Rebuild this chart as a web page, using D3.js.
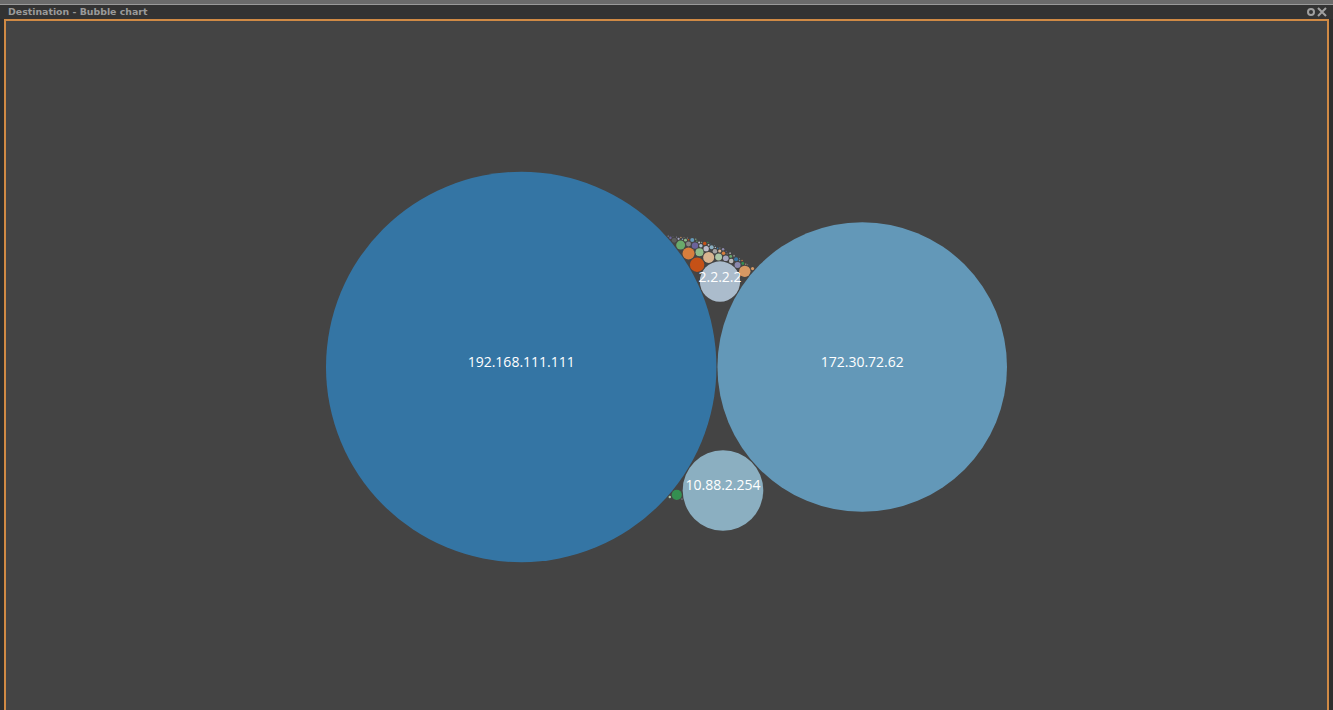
<!DOCTYPE html>
<html>
<head>
<meta charset="utf-8">
<script src="https://cdn.jsdelivr.net/npm/d3@7"></script>
<style>
  body { margin: 0; background: #2e2e2e; overflow: hidden; }
  svg { display: block; }
</style>
</head>
<body>
<svg class="chart"></svg>
<script>
var width = 1333;
var height = 710;

// destinations and their counts (sorted high to low)
var names = ["192.168.111.111", "172.30.72.62", "10.88.2.254", "2.2.2.2",
    "10.10.1.5", "10.10.1.20", "10.10.2.7", "10.10.2.9", "10.10.3.1", "10.10.3.4",
    "10.10.4.2", "10.10.4.8", "10.10.5.3", "10.10.5.6", "10.10.6.1", "10.10.6.9",
    "10.10.7.2", "10.10.7.5", "10.10.8.4", "10.10.8.8", "10.10.9.1", "10.10.9.3",
    "10.10.10.2", "10.10.10.6", "10.10.11.4", "10.10.11.7", "10.10.12.1", "10.10.12.5",
    "10.10.13.2", "10.10.13.8", "10.10.14.3", "10.10.14.6", "10.10.15.1", "10.10.15.9",
    "10.10.16.2", "10.10.16.4", "10.10.17.3", "10.10.17.7", "10.10.18.1", "10.10.18.5",
    "10.10.19.2", "10.10.19.6", "10.10.20.3", "10.10.20.8", "10.10.21.1", "10.10.21.4",
    "10.10.22.2", "10.10.22.7", "10.10.23.3", "10.10.23.5", "10.10.24.1", "10.10.24.9",
    "10.10.25.2", "10.10.25.6", "10.10.26.4", "10.10.26.8", "10.10.27.1", "10.10.27.3",
    "10.10.28.5", "10.10.28.7", "10.10.29.2", "10.10.29.4", "10.10.30.6", "10.10.30.9"];
var counts = [38000, 20900, 1620, 405,
    52, 36, 32, 30, 26, 20,
    16, 12, 10, 9, 8, 7,
    6, 6, 5, 5, 4, 4,
    4, 3, 3, 3, 2.5, 2.5,
    2, 2, 2, 1.5, 1.5, 1.5,
    1.2, 1, 1, 1, 0.8, 0.8,
    0.6, 0.6, 0.5, 0.5, 0.5, 0.5,
    0.4, 0.4, 0.4, 0.4, 0.4, 0.3,
    0.3, 0.3, 0.3, 0.3, 0.3, 0.3,
    0.2, 0.2, 0.2, 0.2, 0.2, 0.2];

var title = "Destination - Bubble chart";

var chart = d3.select(".chart")
    .attr("width", width)
    .attr("height", height)
    .style("font-family", "'Open Sans', sans-serif");

// window frame
chart.append("rect").attr("x", 0).attr("y", 0).attr("width", width).attr("height", 4).attr("fill", "#6b6b6b");
chart.append("rect").attr("x", 0).attr("y", 4).attr("width", width).attr("height", 1).attr("fill", "#9a9a9a");
chart.append("rect").attr("x", 0).attr("y", 5).attr("width", width).attr("height", 14).attr("fill", "#333333");
chart.append("rect").attr("x", 4).attr("y", 19).attr("width", 1325).attr("height", 691).attr("fill", "#d08a45");
chart.append("rect").attr("x", 6).attr("y", 21).attr("width", 1321).attr("height", 689).attr("fill", "#444444");

chart.append("text")
    .attr("x", 8)
    .attr("y", 15)
    .attr("fill", "#9a9a9a")
    .style("font-family", "'DejaVu Sans', sans-serif")
    .style("font-size", "9.4px")
    .style("font-weight", "bold")
    .text(title);

// gear + close icons
var icons = chart.append("g").attr("fill", "none").attr("stroke", "#a0a0a0");
icons.append("circle").attr("cx", 1311).attr("cy", 12).attr("r", 3).attr("stroke-width", 2);
icons.append("path").attr("d", "M1318,8L1326,16M1326,8L1318,16").attr("stroke-width", 2);

var data = names.map(function(n, i) {
    return {name: n, value: counts[i]};
});

var root = d3.hierarchy({children: data})
    .sum(function(d) { return d.value; })
    .sort(function(a, b) { return b.value - a.value; });

var pack = d3.pack()
    .size([1323, 683])
    .padding(1);

pack(root);

var color = d3.scaleOrdinal(d3.schemeCategory20c || [
    "#3182bd", "#6baed6", "#9ecae1", "#c6dbef", "#e6550d", "#fd8d3c", "#fdae6b", "#fdd0a2",
    "#31a354", "#74c476", "#a1d99b", "#c7e9c0", "#756bb1", "#9e9ac8", "#bcbddc", "#dadaeb",
    "#636363", "#969696", "#bdbdbd", "#d9d9d9"]);

var g = chart.append("g")
    .attr("transform", "translate(5,25.5)");

var node = g.selectAll("g.node")
    .data(root.leaves())
    .enter()
    .append("g")
    .attr("class", "node")
    .attr("transform", function(d) { return "translate(" + d.x + "," + d.y + ")"; });

node.append("circle")
    .attr("r", function(d) { return d.r; })
    .attr("fill", function(d) { return color(d.data.name); })
    .attr("fill-opacity", 0.8);

node.append("title")
    .text(function(d) { return d.data.name + ": " + d.data.value; });

node.filter(function(d) { return d.r > 15; })
    .append("text")
    .attr("text-anchor", "middle")
    .attr("fill", "#ffffff")
    .style("font-size", "14px")
    .text(function(d) { return d.data.name; });
</script>
</body>
</html>
